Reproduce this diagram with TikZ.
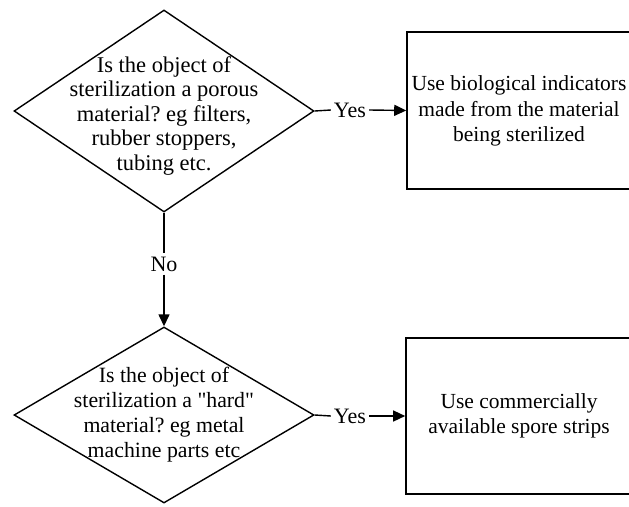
\documentclass[tikz,border=0pt]{standalone}
\usepackage{fontspec}
\setmainfont{Liberation Serif}[Ligatures=TeXOff]
\usetikzlibrary{shapes.geometric,arrows.meta}
\begin{document}
\begin{tikzpicture}[x=1pt,y=-1pt,
  every node/.style={font=\fontsize{21.5}{25.5}\selectfont\frenchspacing},
  dia/.style={draw,line width=1.4pt,diamond,inner sep=0pt},
  txt/.style={align=center,inner sep=0pt},
  dtxt/.style={align=center,inner sep=0pt,font=\fontsize{22.5}{24.5}\selectfont\frenchspacing},
  dtxtb/.style={align=center,inner sep=0pt,font=\fontsize{21.8}{25}\selectfont\frenchspacing},
  boxn/.style={draw,line width=1.6pt,rectangle,inner sep=0pt},
  lbl/.style={inner sep=3pt,font=\fontsize{22}{25}\selectfont},
  conn/.style={line width=1.4pt},
  arr/.style={line width=1.4pt,-{Triangle[length=12pt,width=11pt]}}]
\useasboundingbox (0,0) rectangle (629,506);
% decision 1
\node[dia,minimum width=300pt,minimum height=202pt] (d1) at (164,111) {};
\node[dtxt] (t1) at (164,116) {Is the object of\\sterilization a porous\\material? eg filters,\\rubber stoppers,\\tubing etc.};
% box 1
\node[boxn,minimum width=225pt,minimum height=157pt] (b1) at (519.5,110.5) {};
\node[txt] (bt1) at (519,111) {Use biological indicators\\made from the material\\being sterilized};
% decision 2
\node[dia,minimum width=300pt,minimum height=176pt] (d2) at (164,415) {};
\node[dtxtb] (t2) at (164,415) {Is the object of\\sterilization a "hard"\\material? eg metal\\machine parts etc};
% box 2
\node[boxn,minimum width=226pt,minimum height=156pt] (b2) at (519,416) {};
\node[txt] (bt2) at (519,416) {Use commercially\\available spore strips};
% labels
\node[lbl] (y1) at (350,110) {Yes};
\node[lbl] (y2) at (350,416) {Yes};
\node[lbl] (n1) at (164,264) {No};
% connectors
\draw[conn] (d1.east) -- (y1.west);
\draw[arr] (y1.east) -- (b1.west);
\draw[conn] (d2.east) -- (y2.west);
\draw[arr] (y2.east) -- (b2.west);
\draw[conn] (d1.south) -- (n1.north);
\draw[arr] (n1.south) -- (d2.north);
\end{tikzpicture}
\end{document}
